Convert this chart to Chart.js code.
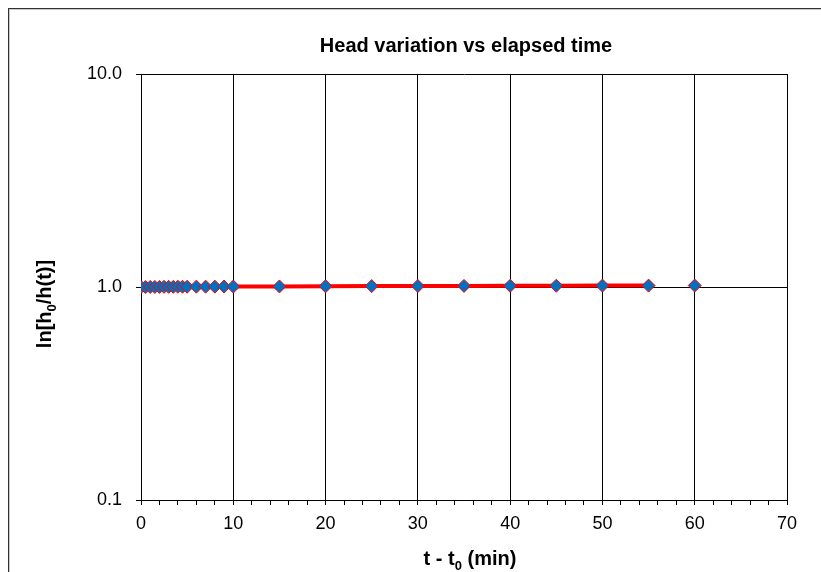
<!DOCTYPE html>
<html>
<head>
<meta charset="utf-8">
<script src="https://cdn.jsdelivr.net/npm/chart.js@4/dist/chart.umd.min.js"></script>
<style>
  html, body { margin: 0; padding: 0; background: #fff; overflow: hidden; }
  #frame {
    position: absolute; left: 8px; top: 8px; width: 900px; height: 700px;
    border-left: 1px solid #333; border-top: 1px solid #333;
    box-shadow: inset 1px 1px 0 #c8c8c8;
  }
  #plot { position: absolute; left: 0; top: 0; }
</style>
</head>
<body>
<div id="frame"></div>
<canvas id="plot" width="821" height="572"></canvas>
<script>
// elapsed time since start of test, minutes
const elapsedMin = [0, 0.5, 1, 1.5, 2, 2.5, 3, 3.5, 4, 4.5, 5, 6, 7, 8, 9, 10,
                    15, 20, 25, 30, 35, 40, 45, 50, 55, 60];
// ln[h0/h(t)] readings
const headRatio = [1.000, 1.000, 1.001, 1.001, 1.001, 1.002, 1.002, 1.002, 1.003, 1.003, 1.003,
                   1.004, 1.004, 1.004, 1.005, 1.005,
                   1.006, 1.008, 1.010, 1.011, 1.012, 1.013, 1.014, 1.015, 1.015, 1.016];
const yTickValues = [0.1, 1, 10];
const xLabelStep = 10;
const xMinorStep = 2;

const FONT = "'Liberation Sans', Arial, sans-serif";

// axis / chart titles with subscript parts, drawn straight on the canvas
function drawRich(ctx, parts, x, y, size, rotate) {
  ctx.save();
  ctx.translate(x, y);
  if (rotate) ctx.rotate(-Math.PI / 2);
  ctx.fillStyle = '#000';
  ctx.textBaseline = 'alphabetic';
  ctx.textAlign = 'left';
  let total = 0;
  const sized = parts.map(p => {
    const s = p.sub ? Math.round(size * 0.65) : size;
    ctx.font = 'bold ' + s + 'px ' + FONT;
    const w = ctx.measureText(p.text).width;
    total += w;
    return { text: p.text, s: s, w: w, sub: p.sub };
  });
  let cx = -total / 2;
  const base = size * 0.36;
  sized.forEach(p => {
    ctx.font = 'bold ' + p.s + 'px ' + FONT;
    ctx.fillText(p.text, cx, base + (p.sub ? size * 0.22 : 0));
    cx += p.w;
  });
  ctx.restore();
}

const titlesPlugin = {
  id: 'titles',
  afterDraw(chart) {
    const ctx = chart.ctx;
    const area = chart.chartArea;
    drawRich(ctx, [{ text: 'Head variation vs elapsed time' }], 466, 45, 20, false);
    drawRich(ctx, [{ text: 't - t' }, { text: '0', sub: true }, { text: ' (min)' }],
             (area.left + area.right) / 2 + 6, 558, 20, false);
    drawRich(ctx, [{ text: 'ln[h' }, { text: '0', sub: true }, { text: '/h(t)]' }],
             44, 304, 20, true);
  }
};

const points = elapsedMin.map((t, i) => ({ x: t, y: headRatio[i] }));

new Chart(document.getElementById('plot'), {
  type: 'scatter',
  data: {
    datasets: [{
      data: points,
      showLine: true,
      borderColor: '#FF0000',
      borderWidth: 4,
      // the final reading is left unjoined
      segment: {
        borderColor: c => c.p1DataIndex === points.length - 1 ? 'transparent' : '#FF0000'
      },
      pointStyle: 'rectRot',
      pointRadius: 6.5,
      pointHoverRadius: 6.5,
      pointBackgroundColor: '#0070C0',
      pointBorderColor: '#FF0000',
      pointBorderWidth: 1
    }]
  },
  options: {
    responsive: false,
    devicePixelRatio: 1,
    animation: false,
    layout: { padding: { top: 74, right: 34, left: 0, bottom: 0 } },
    plugins: {
      legend: { display: false },
      tooltip: { enabled: false },
      title: { display: false }
    },
    scales: {
      x: {
        type: 'linear',
        min: 0,
        max: 70,
        afterFit: s => { s.height = 72; },
        border: { color: '#000', width: 1 },
        grid: {
          color: c => (c.tick && c.tick.value % xLabelStep === 0) ? '#000' : 'transparent',
          tickColor: '#000',
          tickLength: 5,
          lineWidth: 1
        },
        ticks: {
          stepSize: xMinorStep,
          autoSkip: false,
          maxRotation: 0,
          padding: 8,
          color: '#000',
          font: { family: FONT, size: 18 },
          callback: v => (v % xLabelStep === 0 ? v : '')
        }
      },
      y: {
        type: 'logarithmic',
        min: 0.1,
        max: 10,
        afterBuildTicks: s => { s.ticks = yTickValues.map(v => ({ value: v })); },
        afterFit: s => { s.width = 141; },
        border: { color: '#000', width: 1 },
        grid: { color: '#000', tickColor: '#000', tickLength: 5, lineWidth: 1 },
        ticks: {
          autoSkip: false,
          padding: 14,
          color: '#000',
          font: { family: FONT, size: 18 },
          callback: v => Number(v).toFixed(1)
        }
      }
    }
  },
  plugins: [titlesPlugin]
});
</script>
</body>
</html>
